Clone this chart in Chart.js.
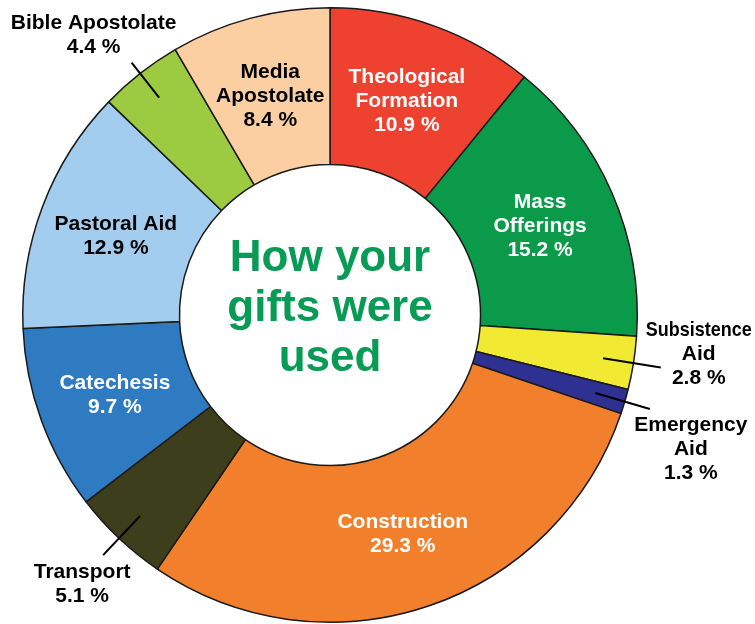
<!DOCTYPE html>
<html>
<head>
<meta charset="utf-8">
<script src="https://cdn.jsdelivr.net/npm/chart.js@4.4.1/dist/chart.umd.min.js"></script>
<style>
  html, body { margin: 0; padding: 0; background: #fff; }
  #wrap { width: 755px; height: 624px; position: relative; }
</style>
</head>
<body>
<div id="wrap"><canvas id="gifts-chart"></canvas></div>
<script>
// Data, clockwise from 12 o'clock
const categories = [
    ['Theological', 'Formation'],
    ['Mass', 'Offerings'],
    ['Subsistence', 'Aid'],
    ['Emergency', 'Aid'],
    ['Construction'],
    ['Transport'],
    ['Catechesis'],
    ['Pastoral Aid'],
    ['Bible Apostolate'],
    ['Media', 'Apostolate']
];
const shares = [10.9, 15.2, 2.8, 1.3, 29.3, 5.1, 9.7, 12.9, 4.4, 8.4];
const centerTitle = ['How your', 'gifts were', 'used'];

const sliceColors = [
    '#EE4130', '#0A9A4A', '#F2E933', '#2E3192', '#F27F2C',
    '#3D3F1C', '#2F7BC2', '#A3CDEF', '#9CCB42', '#FBCFA1'
];
const labelColors = [
    '#fff', '#fff', '#000', '#000', '#fff',
    '#000', '#fff', '#000', '#000', '#000'
];

// slices labelled outside the ring with a leader line
// end = leader end radius (fraction of outer radius), dx/dy = first text line offset from end
const outsideLabels = {
    2: { end: 1.09, dx: 38, dy: -37, maxW: 106 },
    3: { end: 1.085, dx: 41, dy: 16 },
    5: { end: 1.075, dx: -21, dy: 17 },
    8: { end: 1.045, dx: -38, dy: -39 }
};

document.addEventListener('DOMContentLoaded', function () {
    const ctx = document.getElementById('gifts-chart');
    const FONT = '"Liberation Sans", Arial, Helvetica, sans-serif';
    const LINE_H = 24;

    const SliceLabels = {
        id: 'sliceLabels',
        afterDatasetsDraw(chart) {
            const c = chart.ctx;
            const meta = chart.getDatasetMeta(0);
            c.save();
            c.textAlign = 'center';
            c.textBaseline = 'middle';

            meta.data.forEach((arc, i) => {
                const p = arc.getProps(['x', 'y', 'startAngle', 'endAngle', 'outerRadius'], true);
                const lines = categories[i].concat([shares[i].toFixed(1) + ' %']);
                const out = outsideLabels[i];

                if (out) {
                    const mid = (p.startAngle + p.endAngle) / 2;
                    const r0 = p.outerRadius * 0.9;
                    const r1 = p.outerRadius * out.end;
                    const x1 = p.x + Math.cos(mid) * r1;
                    const y1 = p.y + Math.sin(mid) * r1;
                    c.strokeStyle = '#000';
                    c.lineWidth = 2;
                    c.beginPath();
                    c.moveTo(p.x + Math.cos(mid) * r0, p.y + Math.sin(mid) * r0);
                    c.lineTo(x1, y1);
                    c.stroke();

                    c.fillStyle = '#000';
                    c.font = 'bold 21px ' + FONT;
                    lines.forEach((t, k) => {
                        if (out.maxW) {
                            c.fillText(t, x1 + out.dx, y1 + out.dy + k * LINE_H, out.maxW);
                        } else {
                            c.fillText(t, x1 + out.dx, y1 + out.dy + k * LINE_H);
                        }
                    });
                } else {
                    const cp = arc.getCenterPoint();
                    const top = cp.y + 2 - (lines.length - 1) * LINE_H / 2;
                    c.fillStyle = labelColors[i];
                    c.font = 'bold 21px ' + FONT;
                    lines.forEach((t, k) => {
                        c.fillText(t, cp.x, top + k * LINE_H);
                    });
                }
            });

            // centre title
            const first = meta.data[0];
            c.fillStyle = '#079B56';
            c.font = 'bold 44px ' + FONT;
            const lh = 50;
            const top = first.y - 6 - (centerTitle.length - 1) * lh / 2;
            centerTitle.forEach((t, k) => {
                c.fillText(t, first.x, top + k * lh);
            });
            c.restore();
        }
    };

    new Chart(ctx, {
        type: 'doughnut',
        data: {
            labels: categories.map(l => l.join(' ')),
            datasets: [{
                data: shares,
                backgroundColor: sliceColors,
                borderColor: '#1a1a1a',
                borderWidth: 1.5,
                borderAlign: 'center'
            }]
        },
        options: {
            responsive: false,
            animation: false,
            cutout: '49%',
            layout: {
                padding: { left: 22, right: 117, top: 7, bottom: 1 }
            },
            plugins: {
                legend: { display: false },
                tooltip: { enabled: false }
            }
        },
        plugins: [SliceLabels]
    });
});
</script>
<script>
  // fixed canvas size
  const cv = document.getElementById('gifts-chart');
  cv.width = 755; cv.height = 624;
  cv.style.width = '755px'; cv.style.height = '624px';
</script>
</body>
</html>
